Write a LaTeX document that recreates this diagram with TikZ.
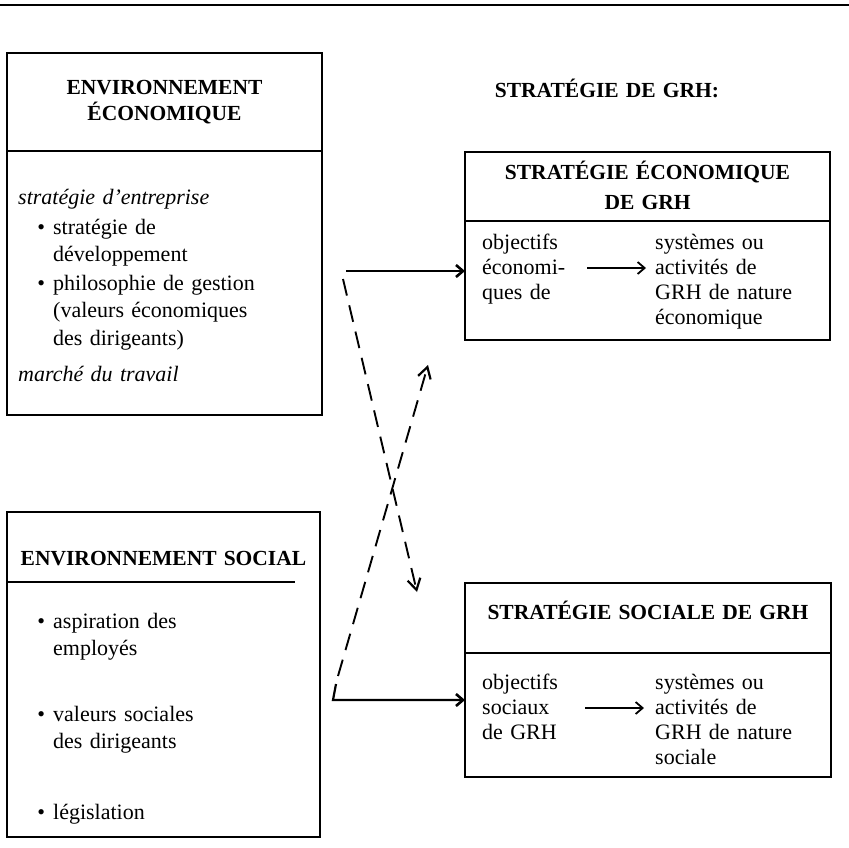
\documentclass[tikz,border=0pt]{standalone}
\usepackage{fontspec}
\setmainfont{Liberation Serif}
\usetikzlibrary{arrows.meta}
\begin{document}
\begin{tikzpicture}[x=1pt,y=-1pt,
  box/.style={draw, line width=1.4pt, rectangle, inner sep=0pt, outer sep=0pt, anchor=north west},
  hd/.style={font=\fontsize{21.5}{26}\selectfont\bfseries, inner sep=0pt, anchor=base, text width=#1, align=center},
  hd/.default=300pt,
  txt/.style={font=\fontsize{22}{27.5}\selectfont, inner sep=0pt, anchor=base west, text width=#1, align=left},
  txt/.default=260pt,
  ctxt/.style={font=\fontsize{22}{25}\selectfont, inner sep=0pt, anchor=base west, text width=#1, align=left},
  ctxt/.default=170pt,
  rule/.style={line width=1.4pt},
  arr/.style={line width=2.2pt, -{Straight Barb[length=7pt,width=12pt,line width=2.6pt]}},
  arrin/.style={line width=1.4pt, -{Straight Barb[length=7pt,width=12pt,line width=1.8pt]}},
  dashline/.style={line width=1.9pt, dash pattern=on 17pt off 10pt, -{Straight Barb[length=11pt,width=13pt,line width=2.2pt]}}
]
\useasboundingbox (0,0) rectangle (849,847);
\draw[line width=2pt] (0,5) -- (849,5);

% Environnement economique
\node[box, minimum width=315pt, minimum height=362pt] (envEco) at (7,53) {};
\draw[rule] (7,151) -- (322,151);
\node[hd] (envEcoH) at (164.5,94) {ENVIRONNEMENT\\ÉCONOMIQUE};
\node[txt] (ecoI1) at (18,204) {\itshape stratégie d’entreprise};
\node[txt] (ecoB1) at (53,234) {\llap{\textbullet\hspace{8pt}}stratégie de\\développement};
\node[txt] (ecoB2) at (53,290) {\llap{\textbullet\hspace{8pt}}philosophie de gestion\\(valeurs économiques\\des dirigeants)};
\node[txt] (ecoI2) at (18,381) {\itshape marché du travail};

% Environnement social
\node[box, minimum width=313pt, minimum height=325pt] (envSoc) at (7,512) {};
\draw[rule] (7,582) -- (295,582);
\node[hd] (envSocH) at (163.5,565) {ENVIRONNEMENT SOCIAL};
\node[txt] (socB1) at (53,628) {\llap{\textbullet\hspace{8pt}}aspiration des\\employés};
\node[txt] (socB2) at (53,721) {\llap{\textbullet\hspace{8pt}}valeurs sociales\\des dirigeants};
\node[txt] (socB3) at (53,819) {\llap{\textbullet\hspace{8pt}}législation};

% Strategie de GRH
\node[hd] (grhH) at (607,97) {STRATÉGIE DE GRH:};

\node[box, minimum width=365pt, minimum height=188pt] (stratEco) at (465,152) {};
\draw[rule] (465,221) -- (830,221);
\node[hd=350pt] (stratEcoH) at (647.5,179) {STRATÉGIE ÉCONOMIQUE\\[4pt]DE GRH};
\node[ctxt=100pt] (objEco) at (482,249) {objectifs\\économi-\\ques de};
\node[ctxt] (sysEco) at (655,249) {systèmes ou\\activités de\\GRH de nature\\économique};

\node[box, minimum width=366pt, minimum height=194pt] (stratSoc) at (465,583) {};
\draw[rule] (465,653) -- (831,653);
\node[hd=360pt] (stratSocH) at (648,619) {STRATÉGIE SOCIALE DE GRH};
\node[ctxt=100pt] (objSoc) at (482,689) {objectifs\\sociaux\\de GRH};
\node[ctxt] (sysSoc) at (655,689) {systèmes ou\\activités de\\GRH de nature\\sociale};

% inner arrows
\coordinate (ie1) at (587,268);
\coordinate (ie2) at (646,268);
\draw[arrin] (ie1) -- (ie2);
\coordinate (is1) at (585,708);
\coordinate (is2) at (644,708);
\draw[arrin] (is1) -- (is2);

% connectors
\coordinate (s1) at (346,271);
\draw[arr] (s1) -- (stratEco.west |- s1);
\coordinate (s2a) at (336,684);
\coordinate (s2b) at (333,700);
\draw[arr] (s2a) -- (s2b) -- (stratSoc.west |- s2b);
\coordinate (d1a) at (343,279);
\coordinate (d1b) at (417,592);
\draw[dashline] (d1a) -- (d1b);
\coordinate (d2a) at (338,676);
\coordinate (d2b) at (428,365);
\draw[dashline] (d2a) -- (d2b);
\end{tikzpicture}
\end{document}
